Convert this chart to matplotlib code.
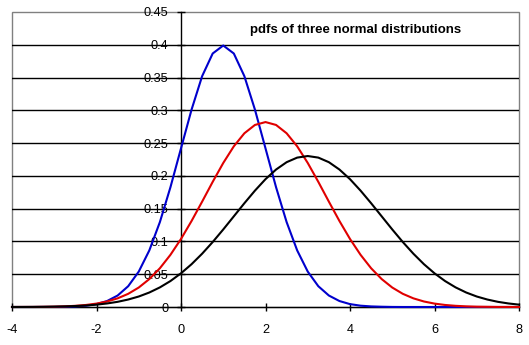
import matplotlib
matplotlib.use("Agg")
import matplotlib.pyplot as plt
from matplotlib.patches import Rectangle

plt.rcParams['font.family'] = ['Liberation Sans', 'DejaVu Sans']

x = [-4, -3.75, -3.5, -3.25, -3, -2.75, -2.5, -2.25, -2, -1.75, -1.5, -1.25,
     -1, -0.75, -0.5, -0.25, 0, 0.25, 0.5, 0.75, 1, 1.25, 1.5, 1.75,
     2, 2.25, 2.5, 2.75, 3, 3.25, 3.5, 3.75, 4, 4.25, 4.5, 4.75,
     5, 5.25, 5.5, 5.75, 6, 6.25, 6.5, 6.75, 7, 7.25, 7.5, 7.75, 8]

blue = [0.0000, 0.0000, 0.0000, 0.0001, 0.0001, 0.0004, 0.0009, 0.0020, 0.0044, 0.0091, 0.0175, 0.0317,
        0.0540, 0.0863, 0.1295, 0.1827, 0.2420, 0.3011, 0.3521, 0.3867, 0.3989, 0.3867, 0.3521, 0.3011,
        0.2420, 0.1827, 0.1295, 0.0863, 0.0540, 0.0317, 0.0175, 0.0091, 0.0044, 0.0020, 0.0009, 0.0004,
        0.0001, 0.0000, 0.0000, 0.0000, 0.0000, 0.0000, 0.0000, 0.0000, 0.0000, 0.0000, 0.0000, 0.0000, 0.0000]

red = [0.0000, 0.0001, 0.0001, 0.0003, 0.0005, 0.0010, 0.0018, 0.0031, 0.0052, 0.0084, 0.0132, 0.0201,
       0.0297, 0.0426, 0.0591, 0.0796, 0.1038, 0.1312, 0.1607, 0.1909, 0.2197, 0.2451, 0.2650, 0.2777,
       0.2821, 0.2777, 0.2650, 0.2451, 0.2197, 0.1909, 0.1607, 0.1312, 0.1038, 0.0796, 0.0591, 0.0426,
       0.0297, 0.0201, 0.0132, 0.0084, 0.0052, 0.0031, 0.0018, 0.0010, 0.0005, 0.0003, 0.0001, 0.0001, 0.0000]

black = [0.0001, 0.0001, 0.0002, 0.0003, 0.0006, 0.0009, 0.0015, 0.0023, 0.0036, 0.0054, 0.0079, 0.0114,
         0.0160, 0.0221, 0.0299, 0.0396, 0.0514, 0.0653, 0.0813, 0.0991, 0.1183, 0.1383, 0.1583, 0.1775,
         0.1950, 0.2097, 0.2209, 0.2279, 0.2303, 0.2279, 0.2209, 0.2097, 0.1950, 0.1775, 0.1583, 0.1383,
         0.1183, 0.0991, 0.0813, 0.0653, 0.0514, 0.0396, 0.0299, 0.0221, 0.0160, 0.0114, 0.0079, 0.0054, 0.0036]

xticks = [-4, -2, 0, 2, 4, 6, 8]
yticks = [0, 0.05, 0.1, 0.15, 0.2, 0.25, 0.3, 0.35, 0.4, 0.45]
ytick_labels = ['0', '0.05', '0.1', '0.15', '0.2', '0.25', '0.3', '0.35', '0.4', '0.45']
title = 'pdfs of three normal distributions'

W, H = 529, 345
fig = plt.figure(figsize=(W / 100, H / 100), dpi=100)
fig.patch.set_facecolor('white')
left, right, top, bottom = 12, 519, 12, 307
ax = fig.add_axes([left / W, 1 - bottom / H, (right - left) / W, (bottom - top) / H])
ax.set_xlim(-4, 8)
ax.set_ylim(0, 0.45)

# horizontal gridlines (black, Excel style)
for yv in yticks[1:-1]:
    ax.axhline(yv, color='black', lw=1.0, zorder=1)

# gray plot-area border
ax.add_patch(Rectangle((0, 0), 1, 1, transform=ax.transAxes, fill=False,
                       edgecolor='#808080', lw=1.0, zorder=0, clip_on=False))

for s in ['top', 'right']:
    ax.spines[s].set_visible(False)
ax.spines['left'].set_position(('data', 0))
ax.spines['left'].set_color('black')
ax.spines['left'].set_linewidth(1.0)
ax.spines['bottom'].set_color('black')
ax.spines['bottom'].set_linewidth(1.0)

ax.set_xticks(xticks)
ax.set_xticklabels([str(v) for v in xticks])
ax.set_yticks(yticks)
ax.set_yticklabels(ytick_labels)
ax.tick_params(axis='both', direction='inout', length=6, width=1.0, labelsize=9.2,
               colors='black')
ax.tick_params(axis='y', pad=6)
ax.tick_params(axis='x', pad=9)

ax.plot(x, blue, color='#0000cc', lw=1.5, zorder=3, clip_on=False)
ax.plot(x, red, color='#e00000', lw=1.5, zorder=3, clip_on=False)
ax.plot(x, black, color='black', lw=1.5, zorder=3, clip_on=False)

fig.text(355.5 / W, 1 - 30 / H, title, ha='center', va='center',
         fontsize=9.5, fontweight='bold')

fig.savefig('out.png', dpi=100, facecolor='white')
